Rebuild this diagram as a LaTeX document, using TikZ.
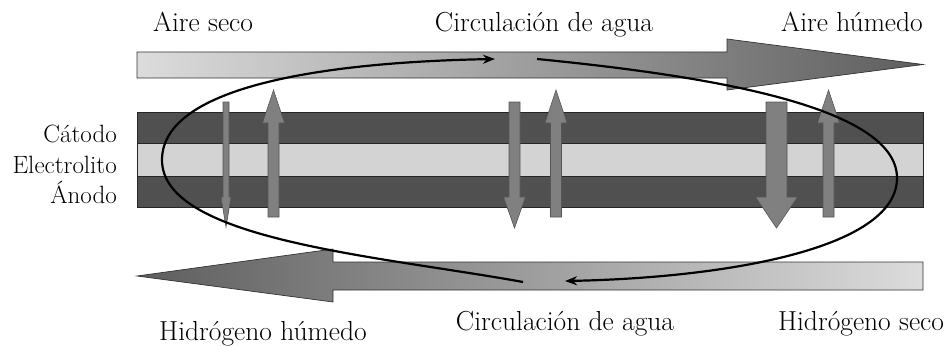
\documentclass[tikz,border=0pt]{standalone}
\usetikzlibrary{arrows.meta}
\definecolor{darklayer}{HTML}{505050}
\definecolor{lightlayer}{HTML}{D3D3D3}
\definecolor{fluxgray}{HTML}{808080}
\definecolor{fluxedge}{HTML}{555555}
\definecolor{gaslight}{HTML}{DCDCDC}
\definecolor{gasdark}{HTML}{5E5E5E}
\begin{document}
\begin{tikzpicture}[x=1pt,y=-1pt,
  lbl/.style={font=\fontsize{27.5}{32}\selectfont, anchor=base, inner sep=0pt},
  side/.style={font=\fontsize{25}{30}\selectfont, anchor=base east, inner sep=0pt},
  layer/.style={draw=black!85, line width=0.8pt},
  flux/.style={fill=fluxgray, draw=fluxedge, line width=0.6pt},
  gas/.style={draw=black!80, line width=0.7pt},
  loopline/.style={line width=2.2pt, -{Stealth[length=12pt,width=9pt]}}]
\useasboundingbox (0,0) rectangle (952,345);
% gas channels
\draw[gas, left color=gaslight, right color=gasdark]
  (137,52) -- (727,52) -- (727,39) -- (923,64.5) -- (727,90) -- (727,78) -- (137,78) -- cycle;
\draw[gas, left color=gasdark, right color=gaslight]
  (923,262) -- (333,262) -- (333,249) -- (137,276) -- (333,302) -- (333,290) -- (923,290) -- cycle;
% membrane layers
\draw[layer, fill=darklayer] (137,112) rectangle (923,143);
\draw[layer, fill=lightlayer] (137,143) rectangle (923,176);
\draw[layer, fill=darklayer] (137,176) rectangle (923,207);
% vertical flux arrows
\draw[flux] (223,102) -- (229,102) -- (229,197) -- (231,197) -- (226,227) -- (221,197) -- (223,197) -- cycle;
\draw[flux] (268,217) -- (279,217) -- (279,123) -- (284.5,123) -- (273.5,90) -- (262.5,123) -- (268,123) -- cycle;
\draw[flux] (509,102) -- (520,102) -- (520,197) -- (525.5,197) -- (514.5,228) -- (503.5,197) -- (509,197) -- cycle;
\draw[flux] (550.5,217) -- (561.5,217) -- (561.5,123) -- (567,123) -- (556,90) -- (545,123) -- (550.5,123) -- cycle;
\draw[flux] (766,102) -- (787,102) -- (787,197) -- (797.5,197) -- (776.5,228) -- (755.5,197) -- (766,197) -- cycle;
\draw[flux] (823,217) -- (834,217) -- (834,123) -- (839.5,123) -- (828.5,90) -- (817.5,123) -- (823,123) -- cycle;
% water circulation loop
\coordinate (lstart) at (523,282);
\coordinate (lend) at (495,59);
\coordinate (rstart) at (537,59);
\coordinate (rend) at (565,281);
\draw[loopline] (lstart) .. controls (380,256) and (162,240) .. (162,160)
  .. controls (162,85) and (330,62) .. (lend);
\draw[loopline] (rstart) .. controls (700,75) and (897,105) .. (897,178)
  .. controls (897,250) and (720,278) .. (rend);
% labels
\node[lbl] (airseco) at (203,32) {Aire seco};
\node[lbl] (circtop) at (544,32) {Circulación de agua};
\node[lbl] (airhum) at (852,32) {Aire húmedo};
\node[lbl] (hidhum) at (263,340) {Hidrógeno húmedo};
\node[lbl] (circbot) at (565,330) {Circulación de agua};
\node[lbl] (hidseco) at (861,330) {Hidrógeno seco};
\node[side] (catodo) at (117,142) {Cátodo};
\node[side] (electro) at (117,173) {Electrolito};
\node[side] (anodo) at (117,203) {Ánodo};
\end{tikzpicture}
\end{document}
